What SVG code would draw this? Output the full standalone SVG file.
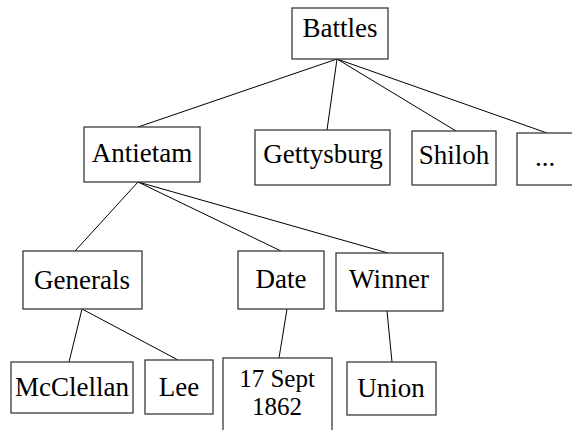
<svg xmlns="http://www.w3.org/2000/svg" width="572" height="430" viewBox="0 0 572 430">
<style>
.box{fill:#fff;stroke:#3a3a3a;stroke-width:1.3}
.lbl{font-family:"Liberation Serif","Times New Roman","DejaVu Serif",serif;font-size:27px;fill:#000;text-anchor:middle}
.sm{font-size:25px}
.edge{stroke:#000;stroke-width:1;fill:none}
</style>
<rect width="572" height="430" fill="#fff"/>
<g id="connectors">
<line class="edge" x1="337" y1="59" x2="138" y2="127"/>
<line class="edge" x1="337" y1="59" x2="327" y2="130"/>
<line class="edge" x1="337" y1="59" x2="456" y2="131"/>
<line class="edge" x1="337" y1="59" x2="547" y2="133"/>
<line class="edge" x1="138" y1="182" x2="75" y2="251"/>
<line class="edge" x1="138" y1="182" x2="281" y2="251"/>
<line class="edge" x1="138" y1="182" x2="388" y2="253"/>
<line class="edge" x1="82" y1="309" x2="69" y2="362"/>
<line class="edge" x1="82" y1="309" x2="178" y2="360"/>
<line class="edge" x1="287" y1="309" x2="279" y2="358"/>
<line class="edge" x1="387" y1="311" x2="392" y2="362"/>
</g>
<g id="battles"><rect class="box" x="292" y="8" width="96" height="51"/><text class="lbl" x="340" y="37">Battles</text></g>
<g id="antietam"><rect class="box" x="84" y="127" width="116" height="55"/><text class="lbl" x="142" y="162">Antietam</text></g>
<g id="gettysburg"><rect class="box" x="255" y="130" width="135" height="55"/><text class="lbl" x="323" y="163">Gettysburg</text></g>
<g id="shiloh"><rect class="box" x="412" y="131" width="84" height="54"/><text class="lbl" x="454" y="164">Shiloh</text></g>
<g id="more"><rect class="box" x="517" y="133" width="60" height="52"/><text class="lbl" x="545" y="166">...</text></g>
<g id="generals"><rect class="box" x="23" y="251" width="119" height="58"/><text class="lbl" x="82" y="289">Generals</text></g>
<g id="date"><rect class="box" x="238" y="251" width="86" height="58"/><text class="lbl" x="281" y="288">Date</text></g>
<g id="winner"><rect class="box" x="336" y="253" width="107" height="58"/><text class="lbl" x="389" y="288">Winner</text></g>
<g id="mcclellan"><rect class="box" x="11" y="362" width="122" height="51"/><text class="lbl" x="72" y="396">McClellan</text></g>
<g id="lee"><rect class="box" x="145" y="360" width="68" height="54"/><text class="lbl" x="179" y="396">Lee</text></g>
<g id="date-value"><rect class="box" x="223" y="358" width="109" height="90"/><text class="lbl sm" x="277" y="387">17 Sept</text><text class="lbl sm" x="277" y="415">1862</text></g>
<g id="union"><rect class="box" x="347" y="362" width="89" height="53"/><text class="lbl" x="391" y="397">Union</text></g>
</svg>
